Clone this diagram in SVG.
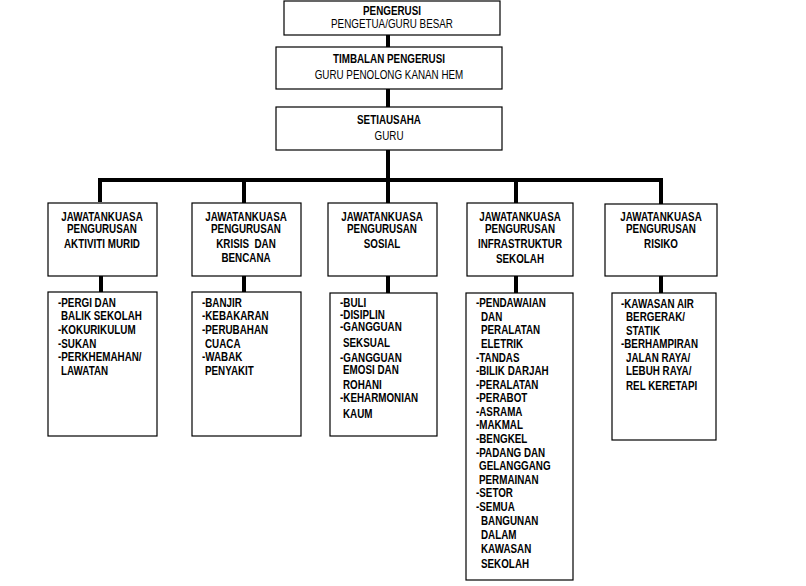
<svg xmlns="http://www.w3.org/2000/svg" width="806" height="586" viewBox="0 0 806 586">
<style>
.box{fill:#fff;stroke:#000;stroke-width:1.2}
.t{font-family:"Liberation Sans Narrow","Arial Narrow","Liberation Sans",sans-serif;font-size:12px;fill:#000;transform-box:fill-box;transform:scaleX(0.82);transform-origin:left center}
.b{font-weight:bold}
.c{text-anchor:middle;transform-origin:center center}
.con{stroke:#000;stroke-width:4;fill:none}
</style>
<rect width="806" height="586" fill="#fff"/>
<g id="connectors">
<path class="con" d="M388 35V47M388 89V107M388 150V180M100 202V180H661V204M244 180V203M388 180V203M516 180V203M101 276V293M244 276V293M388 276V293M516 276V293M661 276V293"/>
</g>
<g id="pengerusi">
<rect class="box" x="284" y="1" width="216" height="34"/>
<text class="t b c" x="392" y="15">PENGERUSI</text>
<text class="t c" x="392" y="28">PENGETUA/GURU BESAR</text>
</g>
<g id="timbalan">
<rect class="box" x="276" y="47" width="226" height="42"/>
<text class="t b c" x="389" y="63">TIMBALAN PENGERUSI</text>
<text class="t c" x="389" y="79">GURU PENOLONG KANAN HEM</text>
</g>
<g id="setiausaha">
<rect class="box" x="276" y="107" width="226" height="43"/>
<text class="t b c" x="389" y="124">SETIAUSAHA</text>
<text class="t c" x="389" y="140">GURU</text>
</g>
<g id="jk-aktiviti">
<rect class="box" x="48" y="203" width="109" height="73"/>
<text class="t b c" x="102" y="221">JAWATANKUASA</text>
<text class="t b c" x="102" y="233">PENGURUSAN</text>
<text class="t b c" x="102" y="248">AKTIVITI MURID</text>
</g>
<g id="jk-krisis">
<rect class="box" x="192" y="203" width="109" height="73"/>
<text class="t b c" x="246" y="221">JAWATANKUASA</text>
<text class="t b c" x="246" y="233">PENGURUSAN</text>
<text class="t b c" x="246" y="248" xml:space="preserve">KRISIS  DAN</text>
<text class="t b c" x="246" y="262">BENCANA</text>
</g>
<g id="jk-sosial">
<rect class="box" x="328" y="203" width="109" height="73"/>
<text class="t b c" x="382" y="221">JAWATANKUASA</text>
<text class="t b c" x="382" y="233">PENGURUSAN</text>
<text class="t b c" x="382" y="248">SOSIAL</text>
</g>
<g id="jk-infra">
<rect class="box" x="467" y="203" width="106" height="73"/>
<text class="t b c" x="520" y="221">JAWATANKUASA</text>
<text class="t b c" x="520" y="233">PENGURUSAN</text>
<text class="t b c" x="520" y="248">INFRASTRUKTUR</text>
<text class="t b c" x="520" y="263">SEKOLAH</text>
</g>
<g id="jk-risiko">
<rect class="box" x="605" y="204" width="112" height="72"/>
<text class="t b c" x="661" y="221">JAWATANKUASA</text>
<text class="t b c" x="661" y="233">PENGURUSAN</text>
<text class="t b c" x="661" y="248">RISIKO</text>
</g>
<g id="senarai-aktiviti">
<rect class="box" x="48" y="292" width="109" height="144"/>
<text class="t b" x="58" y="307">-PERGI DAN</text>
<text class="t b" x="61" y="320">BALIK SEKOLAH</text>
<text class="t b" x="58" y="334">-KOKURIKULUM</text>
<text class="t b" x="58" y="348">-SUKAN</text>
<text class="t b" x="58" y="361">-PERKHEMAHAN/</text>
<text class="t b" x="61" y="375">LAWATAN</text>
</g>
<g id="senarai-krisis">
<rect class="box" x="192" y="292" width="109" height="144"/>
<text class="t b" x="202" y="307">-BANJIR</text>
<text class="t b" x="202" y="320">-KEBAKARAN</text>
<text class="t b" x="202" y="334">-PERUBAHAN</text>
<text class="t b" x="205" y="348">CUACA</text>
<text class="t b" x="202" y="361">-WABAK</text>
<text class="t b" x="205" y="375">PENYAKIT</text>
</g>
<g id="senarai-sosial">
<rect class="box" x="330" y="293" width="107" height="143"/>
<text class="t b" x="340" y="307">-BULI</text>
<text class="t b" x="340" y="319">-DISIPLIN</text>
<text class="t b" x="340" y="331">-GANGGUAN</text>
<text class="t b" x="343" y="347">SEKSUAL</text>
<text class="t b" x="340" y="362">-GANGGUAN</text>
<text class="t b" x="343" y="374">EMOSI DAN</text>
<text class="t b" x="343" y="389">ROHANI</text>
<text class="t b" x="340" y="402">-KEHARMONIAN</text>
<text class="t b" x="343" y="418">KAUM</text>
</g>
<g id="senarai-infra">
<rect class="box" x="466" y="293" width="107" height="287"/>
<text class="t b" x="476" y="307">-PENDAWAIAN</text>
<text class="t b" x="481" y="321">DAN</text>
<text class="t b" x="481" y="334">PERALATAN</text>
<text class="t b" x="481" y="348">ELETRIK</text>
<text class="t b" x="476" y="362">-TANDAS</text>
<text class="t b" x="476" y="375">-BILIK DARJAH</text>
<text class="t b" x="476" y="389">-PERALATAN</text>
<text class="t b" x="476" y="402">-PERABOT</text>
<text class="t b" x="476" y="416">-ASRAMA</text>
<text class="t b" x="476" y="429">-MAKMAL</text>
<text class="t b" x="476" y="443">-BENGKEL</text>
<text class="t b" x="476" y="457">-PADANG DAN</text>
<text class="t b" x="479" y="470">GELANGGANG</text>
<text class="t b" x="479" y="484">PERMAINAN</text>
<text class="t b" x="476" y="497">-SETOR</text>
<text class="t b" x="476" y="511">-SEMUA</text>
<text class="t b" x="481" y="525">BANGUNAN</text>
<text class="t b" x="481" y="539">DALAM</text>
<text class="t b" x="481" y="553">KAWASAN</text>
<text class="t b" x="481" y="568">SEKOLAH</text>
</g>
<g id="senarai-risiko">
<rect class="box" x="612" y="293" width="104" height="147"/>
<text class="t b" x="621" y="308">-KAWASAN AIR</text>
<text class="t b" x="626" y="321">BERGERAK/</text>
<text class="t b" x="626" y="335">STATIK</text>
<text class="t b" x="621" y="348">-BERHAMPIRAN</text>
<text class="t b" x="626" y="362">JALAN RAYA/</text>
<text class="t b" x="626" y="375">LEBUH RAYA/</text>
<text class="t b" x="626" y="390">REL KERETAPI</text>
</g>
</svg>
